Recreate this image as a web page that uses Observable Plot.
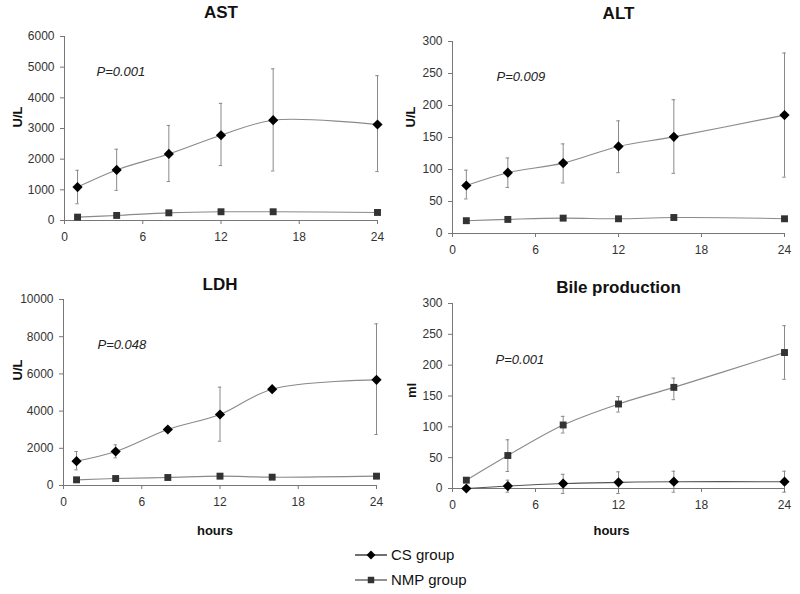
<!DOCTYPE html>
<html><head><meta charset="utf-8">
<script src="https://cdn.jsdelivr.net/npm/d3@7"></script>
<script src="https://cdn.jsdelivr.net/npm/@observablehq/plot@0.6"></script>
<style>
body{margin:0;background:#fff;font-family:"Liberation Sans",Arial,sans-serif;}
#root{position:relative;width:800px;height:594px;overflow:hidden;background:#fff}
.panel{position:absolute}
#legend{position:absolute;left:350px;top:540px}
</style></head><body><div id="root"></div>
<script>
const hours = [1, 4, 8, 12, 16, 24];
const xTicks = [0, 6, 12, 18, 24];

// AST (U/L)
const astCS = [1090, 1650, 2170, 2780, 3270, 3130];
const astCSLow = [545, 982, 1270, 1790, 1615, 1595];
const astCSHigh = [1636, 2324, 3100, 3820, 4945, 4724];
const astNMP = [110, 165, 250, 285, 285, 262];

// ALT (U/L)
const altCS = [75, 95, 110, 136, 151, 185];
const altCSLow = [54, 72, 79, 95, 94, 88];
const altCSHigh = [99, 118, 140, 176, 209, 282];
const altNMP = [20, 22, 24, 23, 25, 23];

// LDH (U/L)
const ldhCS = [1308, 1828, 3011, 3817, 5179, 5681];
const ldhCSLow = [842, 1487, null, 2383, null, 2742];
const ldhCSHigh = [1828, 2186, null, 5287, null, 8692];
const ldhNMP = [305, 376, 430, 502, 448, 502];

// Bile production (ml)
const bileCS = [0, 4, 8, 10, 11, 11];
const bileCSLow = [null, -6, -8, -8, -6, -6];
const bileCSHigh = [null, 13.5, 23, 27, 28, 28];
const bileNMP = [13.5, 53.5, 103, 137, 164, 220.5];
const bileNMPLow = [null, 27.6, 90, 124, 144, 177];
const bileNMPHigh = [null, 79, 117, 149, 179, 264];

const groups = ["CS group", "NMP group"];

function rows(vals, lows, highs) {
  return hours.map((t, i) => ({t, v: vals[i], lo: lows ? lows[i] : null, hi: highs ? highs[i] : null}))
}

function panel(o) {
  const cs = rows(o.cs, o.csLow, o.csHigh);
  const nmp = rows(o.nmp, o.nmpLow, o.nmpHigh);
  const err = [...cs, ...nmp].filter(d => d.lo != null && d.hi != null);
  const caps = err.flatMap(d => [{t: d.t, v: d.lo}, {t: d.t, v: d.hi}]);
  const marks = [
    Plot.ruleX(err, {x: "t", y1: "lo", y2: "hi", stroke: "#8a8a8a", strokeWidth: 1}),
    Plot.ruleY(caps, {y: "v", x1: d => d.t - 0.13, x2: d => d.t + 0.13, stroke: "#8a8a8a", strokeWidth: 1}),
    Plot.frame({anchor: "left", stroke: "#777"}),
    Plot.frame({anchor: "bottom", stroke: "#777"}),
    Plot.axisY({ticks: d3.range(0, o.yMax + 1, o.yStep), tickSize: 4, tickPadding: 6, stroke: "#777", fill: "#333", fontSize: 12, label: null, tickFormat: d => String(d)}),
    Plot.axisX({ticks: xTicks, tickSize: 4, tickPadding: 8, stroke: "#777", fill: "#333", fontSize: 12, label: null}),
    Plot.line(nmp, {x: "t", y: "v", curve: "catmull-rom", stroke: o.nmpLine || "#8a8a8a", strokeWidth: 1.1}),
    Plot.line(cs, {x: "t", y: "v", curve: "catmull-rom", stroke: o.csLine || "#8a8a8a", strokeWidth: 1.1}),
    Plot.dot(nmp, {x: "t", y: "v", symbol: "square", r: 3.9, fill: "#333", stroke: "none"}),
    Plot.dot(cs, {x: "t", y: "v", symbol: "diamond2", r: 4.6, fill: "#000", stroke: "none"}),
    Plot.text([o.title], {text: d => d, frameAnchor: "top", dy: o.titleDy, lineAnchor: "middle", fontSize: 17, fontWeight: "bold", fill: "#111"}),
    Plot.text([o.p], {text: d => d, frameAnchor: "top-left", textAnchor: "start", lineAnchor: "middle", dx: o.pDx, dy: o.pDy, fontSize: 13, fontStyle: "italic", fill: "#222"}),
    Plot.text([o.yLabel], {text: d => d, frameAnchor: "left", dx: o.labelDx, dy: o.labelDy, rotate: -90, lineAnchor: "middle", fontSize: 13, fontWeight: "bold", fill: "#111"})
  ];
  if (o.hours) marks.push(Plot.text(["hours"], {text: d => d, frameAnchor: "bottom", dx: o.hoursDx, dy: o.hoursDy, lineAnchor: "middle", fontSize: 13, fontWeight: "bold", fill: "#111"}));
  const chart = Plot.plot({
    width: o.w, height: o.h,
    marginTop: o.m[0], marginRight: o.m[1], marginBottom: o.m[2], marginLeft: o.m[3],
    x: {domain: [0, 24]},
    y: {domain: [0, o.yMax]},
    style: {fontFamily: "'Liberation Sans', Arial, sans-serif", background: "transparent", overflow: "visible"},
    marks
  });
  chart.classList.add("panel");
  chart.style.left = o.left + "px";
  chart.style.top = o.top + "px";
  document.getElementById("root").appendChild(chart);
}

panel({title: "AST", yLabel: "U/L", p: "P=0.001", cs: astCS, csLow: astCSLow, csHigh: astCSHigh, nmp: astNMP,
  yMax: 6000, yStep: 1000, left: 0, top: 0, w: 400, h: 250, m: [36, 23, 30, 64],
  titleDy: -24, pDx: 32, pDy: 35, labelDx: -47, labelDy: -1});
panel({title: "ALT", yLabel: "U/L", p: "P=0.009", cs: altCS, csLow: altCSLow, csHigh: altCSHigh, nmp: altNMP,
  yMax: 300, yStep: 50, left: 400, top: 0, w: 400, h: 260, m: [41, 16, 27, 52],
  titleDy: -28, pDx: 44, pDy: 35, labelDx: -42, labelDy: -10});
panel({title: "LDH", yLabel: "U/L", p: "P=0.048", cs: ldhCS, csLow: ldhCSLow, csHigh: ldhCSHigh, nmp: ldhNMP,
  yMax: 10000, yStep: 2000, left: 0, top: 260, w: 400, h: 290, m: [39, 24, 65, 63],
  titleDy: -15, pDx: 34, pDy: 45, labelDx: -46, labelDy: -12, hours: true, hoursDx: -5, hoursDy: 45});
panel({title: "Bile production", yLabel: "ml", p: "P=0.001", cs: bileCS, csLow: bileCSLow, csHigh: bileCSHigh,
  nmp: bileNMP, nmpLow: bileNMPLow, nmpHigh: bileNMPHigh, csLine: "#555",
  yMax: 300, yStep: 50, left: 400, top: 260, w: 400, h: 290, m: [43, 16, 62, 52],
  titleDy: -16, pDx: 43, pDy: 56, labelDx: -41, labelDy: 2, hours: true, hoursDx: -7, hoursDy: 42});

// legend
const NS = "http://www.w3.org/2000/svg";
const lg = d3.select("#root").append("svg").attr("id", "legend").attr("width", 140).attr("height", 54);
groups.forEach((g, i) => {
  const y = 15 + i * 25;
  const row = lg.append("g").attr("transform", `translate(0,${y})`);
  row.append("line").attr("x1", 5).attr("x2", 37).attr("y1", 0).attr("y2", 0).attr("stroke", i ? "#555" : "#222").attr("stroke-width", 1.3);
  if (i === 0) row.append("path").attr("d", d3.symbol(d3.symbolDiamond2, 50)()).attr("transform", "translate(21,0)").attr("fill", "#000");
  else row.append("path").attr("d", d3.symbol(d3.symbolSquare, 42)()).attr("transform", "translate(21,0)").attr("fill", "#333");
  row.append("text").attr("x", 41).attr("y", 0).attr("dy", "0.35em").attr("font-size", 15).attr("fill", "#111")
    .attr("font-family", "'Liberation Sans', Arial, sans-serif").text(g);
});
</script></body></html>
